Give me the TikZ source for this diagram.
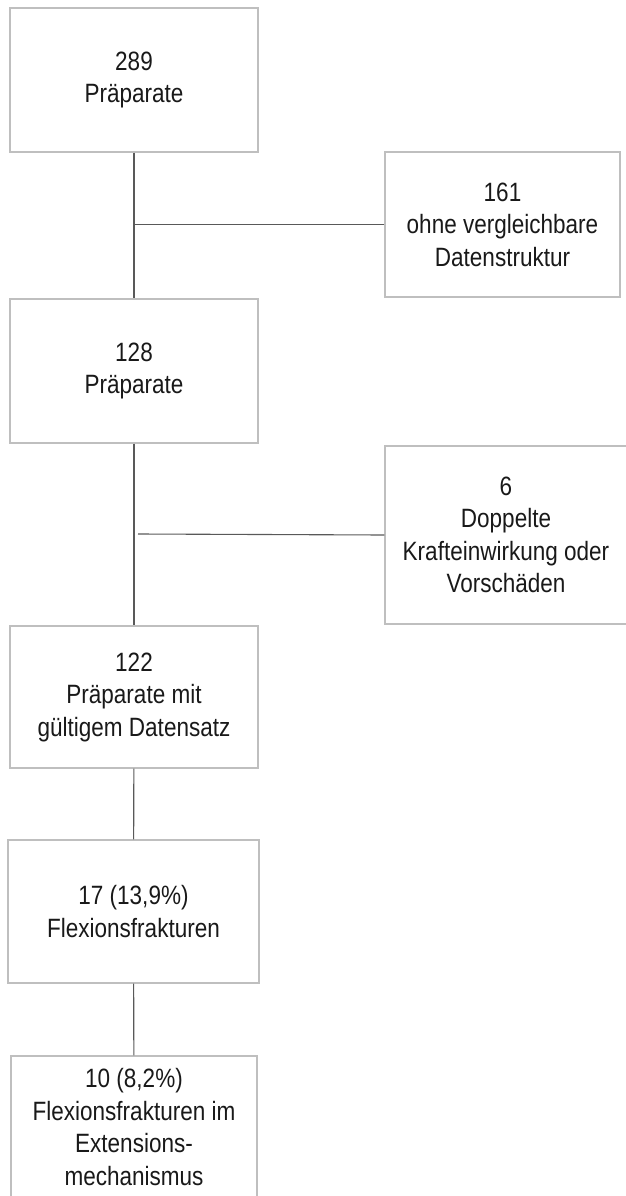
\documentclass[tikz,border=0pt]{standalone}
\usepackage{fontspec}
\setmainfont[FakeStretch=0.85]{Liberation Sans}
\usepackage{tikz}

\begin{document}
\begin{tikzpicture}[x=1pt,y=-1pt,
  box/.style={draw=black!25,line width=1.4pt,text=black!90,align=center,
    inner sep=0pt,font=\fontsize{26.5}{32.5}\selectfont},
  link/.style={draw=black!65,line width=1.1pt}]
\useasboundingbox (0,0) rectangle (626,1196);
\node [box,minimum width=248pt,minimum height=144pt] (a) at (134,80) {289\\Präparate};
\node [box,minimum width=235pt,minimum height=145pt] (b) at (502.5,224.5) {161\\ohne vergleichbare\\Datenstruktur};
\node [box,minimum width=248pt,minimum height=144pt] (c) at (134,371) {128\\Präparate};
\node [box,minimum width=242pt,minimum height=178pt] (d) at (506,535) {6\\Doppelte\\Krafteinwirkung oder\\Vorschäden};
\node [box,minimum width=248pt,minimum height=142pt] (e) at (134,697) {122\\Präparate mit\\gültigem Datensatz};
\node [box,minimum width=251pt,minimum height=143pt] (f) at (133.5,911.5) {17 (13,9\%)\\Flexionsfrakturen};
\node [box,minimum width=246pt,minimum height=142pt] (g) at (134,1127) {10 (8,2\%)\\Flexionsfrakturen im\\Extensions-\\mechanismus};
\coordinate (j) at (138,534);
\draw [link] (a) -- (c);
\draw [link] (b.west) -- (b.west -| a.south);
\draw [link] (c) -- (e);
\draw [link] (d.west) -- (j);
\draw [link] (e) -- (f);
\draw [link] (f) -- (g);
\end{tikzpicture}
\end{document}
